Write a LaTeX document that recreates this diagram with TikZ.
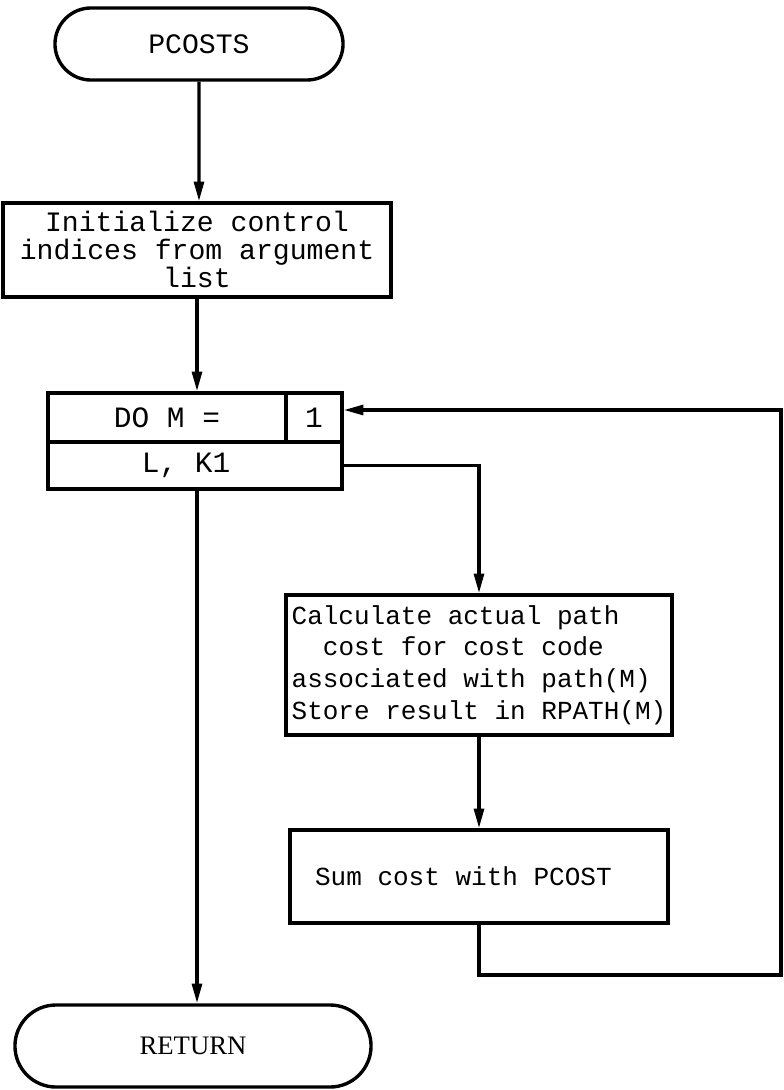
\documentclass[tikz,border=0pt]{standalone}
\usepackage{fontspec}
\setmonofont{Liberation Mono}
\setmainfont{Liberation Serif}
\usetikzlibrary{arrows.meta, shapes.misc}

\begin{document}
\begin{tikzpicture}[
    x=0.025cm, y=-0.025cm,
    line width=2.4pt,
    >={Triangle[length=14pt, width=7pt]},
    font=\ttfamily\fontsize{20}{20}\selectfont,
    terminal/.style={draw, rounded rectangle, minimum width=7.2cm, minimum height=1.8cm, inner sep=0pt},
    procbox/.style={draw, rectangle, inner sep=0pt, align=center},
    docell/.style={draw, rectangle, inner sep=0pt, font=\ttfamily\fontsize{21}{21}\selectfont},
    flow/.style={->}
]
    \useasboundingbox (0,0) rectangle (783,1090);

    % Entry
    \node[terminal] (start) at (199,44) {PCOSTS};

    % Initialization
    \node[procbox, minimum width=9.7cm, minimum height=2.35cm] (init) at (197,250)
        {\\[-6pt]Initialize control\\indices from argument\\list};

    % DO loop box
    \node[docell, minimum width=5.95cm, minimum height=1.225cm] (dotop) at (167,417.5) {DO M =};
    \node[docell, minimum width=1.4cm, minimum height=1.225cm] (doinit) at (314,417.5) {1};
    \node[docell, minimum width=7.35cm, minimum height=1.175cm] (dorange) at (195,465.5) {L, K1\ \ };

    % Loop body
    \node[procbox, align=left, minimum width=9.45cm, minimum height=3.5cm, inner xsep=4pt,
          font=\ttfamily\fontsize{18.5}{22.5}\selectfont] (calc) at (479,665)
        {Calculate actual path\\\ \ cost for cost code\\associated with path(M)\\Store result in RPATH(M)};
    \node[procbox, minimum width=9.45cm, minimum height=2.325cm,
          font=\ttfamily\fontsize{18.5}{18.5}\selectfont] (sum) at (479,876.5)
        {Sum cost with PCOST\ \ };

    % Exit
    \node[terminal, minimum width=8.9cm, minimum height=2.05cm, font=\rmfamily\fontsize{19}{19}\selectfont] (ret) at (193,1046) {RETURN};

    \coordinate (loopb) at (781,975);
    \coordinate (loopt) at (781,410);

    % Connectors
    \draw[flow] (start) -- (start |- init.north);
    \draw[flow] (init.south) -- (init.south |- dotop.north);
    \draw[flow] (dorange.east) -| (calc.north);
    \draw[flow] (calc) -- (sum);
    \draw[flow] (sum.south) |- (loopb) -- (loopt) -- (loopt -| doinit.east);
    \draw[flow] (init.south |- dorange.south) -- (init.south |- ret.north);

\end{tikzpicture}
\end{document}
